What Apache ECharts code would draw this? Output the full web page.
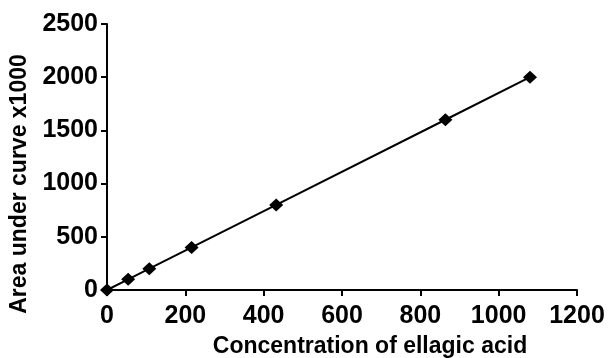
<!DOCTYPE html>
<html>
<head>
<meta charset="utf-8">
<script src="https://cdn.jsdelivr.net/npm/echarts@6/dist/echarts.min.js"></script>
<style>
  html, body { margin: 0; padding: 0; background: #fff; }
  #chart { width: 608px; height: 358px; }
</style>
</head>
<body>
<div id="chart"></div>
<script>
// concentration (x) vs area under curve x1000 (y)
const concentration = [0, 54, 108, 216, 432, 864, 1080];
const area = [0, 100, 200, 400, 800, 1600, 2000];
const xTicks = [0, 200, 400, 600, 800, 1000, 1200];
const yTicks = [0, 500, 1000, 1500, 2000, 2500];

const points = concentration.map((c, i) => [c, area[i]]);

const font = 'Liberation Sans, Arial, sans-serif';
const axisCommon = {
  axisLine: { show: true, onZero: false, lineStyle: { color: '#000', width: 2 } },
  axisTick: { show: true, inside: false, length: 6, lineStyle: { color: '#000', width: 2 } },
  splitLine: { show: false },
  axisLabel: { color: '#000', fontFamily: font, fontWeight: 'bold', fontSize: 25, formatter: v => String(v) }
};

let myChart = echarts.init(document.getElementById('chart'));
const option = {
  animation: false,
  backgroundColor: '#fff',
  grid: { left: 107, right: 31, top: 24, bottom: 68, containLabel: false, outerBoundsMode: 'none' },
  xAxis: {
    type: 'value',
    min: xTicks[0],
    max: xTicks[xTicks.length - 1],
    interval: 200,
    name: 'Concentration of ellagic acid',
    nameLocation: 'middle',
    nameGap: 45,
    nameTextStyle: { color: '#000', fontFamily: font, fontWeight: 'bold', fontSize: 23, padding: [0, 0, 0, 56] },
    ...axisCommon,
    axisLabel: { ...axisCommon.axisLabel, margin: 14 }
  },
  yAxis: {
    type: 'value',
    min: yTicks[0],
    max: yTicks[yTicks.length - 1],
    interval: 500,
    name: 'Area under curve x1000',
    nameLocation: 'middle',
    nameGap: 74,
    nameTextStyle: { color: '#000', fontFamily: font, fontWeight: 'bold', fontSize: 23, padding: [0, 54, 0, 0] },
    ...axisCommon,
    axisLabel: { ...axisCommon.axisLabel, margin: 9 }
  },
  series: [
    {
      type: 'line',
      data: points,
      symbol: 'diamond',
      symbolSize: [14, 13],
      itemStyle: { color: '#000' },
      lineStyle: { color: '#000', width: 2 }
    }
  ]
};
myChart.setOption(option);
</script>
</body>
</html>
